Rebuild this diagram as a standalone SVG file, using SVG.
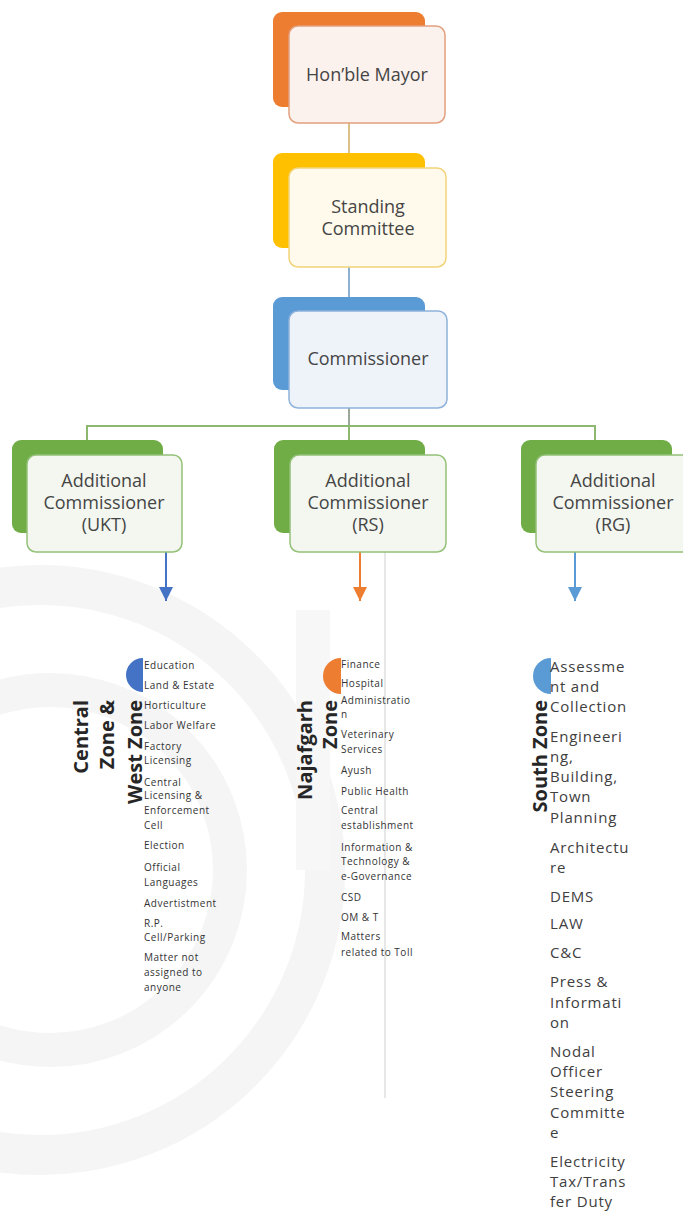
<svg xmlns="http://www.w3.org/2000/svg" width="683" height="1211" viewBox="0 0 683 1211">
<style>
.wm{fill:none;stroke:#f5f5f5}
.back{stroke:none}
.front{stroke-width:1.5}
.lbl{font-family:"Open Sans","Liberation Sans",sans-serif;font-size:18px;fill:#454545;text-anchor:middle}
.zone{font-family:"Open Sans","Liberation Sans",sans-serif;font-size:20px;font-weight:700;fill:#262626;text-anchor:end}
.sm{font-family:"Open Sans","Liberation Sans",sans-serif;font-size:10px;letter-spacing:0.5px;fill:#333}
.big{font-family:"Open Sans","Liberation Sans",sans-serif;font-size:15px;letter-spacing:0.8px;fill:#404040}
.tree{stroke:#8cb870;stroke-width:2;fill:none}
</style>
<defs>
<marker id="aBlue" viewBox="0 0 10 10" markerUnits="userSpaceOnUse" markerWidth="14" markerHeight="14" refX="10" refY="5" orient="auto"><path d="M0,0 L10,5 L0,10 z" fill="#4472c4"/></marker>
<marker id="aOrange" viewBox="0 0 10 10" markerUnits="userSpaceOnUse" markerWidth="14" markerHeight="14" refX="10" refY="5" orient="auto"><path d="M0,0 L10,5 L0,10 z" fill="#ed7d31"/></marker>
<marker id="aLight" viewBox="0 0 10 10" markerUnits="userSpaceOnUse" markerWidth="14" markerHeight="14" refX="10" refY="5" orient="auto"><path d="M0,0 L10,5 L0,10 z" fill="#5b9bd5"/></marker>
</defs>
<rect width="683" height="1211" fill="#ffffff"/>
<g id="watermark">
<circle class="wm" cx="40" cy="870" r="285" stroke-width="40"/>
<circle class="wm" cx="50" cy="870" r="180" stroke-width="34"/>
<rect x="296" y="610" width="34" height="260" fill="#f7f7f7"/>
</g>
<g id="connectors">
<line x1="349" y1="123" x2="349" y2="155" stroke="#dcc08a" stroke-width="2"/>
<line x1="349" y1="267" x2="349" y2="298" stroke="#8eb0d0" stroke-width="2"/>
<line x1="349" y1="408" x2="349" y2="426" stroke="#9aa89a" stroke-width="2"/>
<path class="tree" d="M87,442 V426 H595 V442 M349,426 V442"/>
<line x1="166" y1="552" x2="166" y2="601" stroke="#4472c4" stroke-width="2" marker-end="url(#aBlue)"/>
<line x1="360" y1="552" x2="360" y2="601" stroke="#ed7d31" stroke-width="2" marker-end="url(#aOrange)"/>
<line x1="575" y1="552" x2="575" y2="601" stroke="#5b9bd5" stroke-width="2" marker-end="url(#aLight)"/>
<line x1="385" y1="510" x2="385" y2="1098" stroke="#cfcfcf" stroke-width="1"/>
</g>
<g id="mayor">
<rect class="back" x="273" y="12" width="152" height="95" rx="9" fill="#ed7d31"/>
<rect class="front" x="289" y="26" width="156" height="97" rx="9" fill="#fcf2ed" stroke="#e2a07e"/>
<text class="lbl" x="367" y="81">Hon’ble Mayor</text>
</g>
<g id="standing-committee">
<rect class="back" x="273" y="153" width="152" height="95" rx="9" fill="#ffc000"/>
<rect class="front" x="289" y="168" width="157" height="99" rx="9" fill="#fffaeb" stroke="#f2d37a"/>
<text class="lbl" x="368" y="213">Standing</text>
<text class="lbl" x="368" y="235">Committee</text>
</g>
<g id="commissioner">
<rect class="back" x="273" y="297" width="152" height="93" rx="9" fill="#5b9bd5"/>
<rect class="front" x="289" y="311" width="158" height="97" rx="9" fill="#eef3fa" stroke="#8eb2da"/>
<text class="lbl" x="368" y="365">Commissioner</text>
</g>
<g id="addl-ukt">
<rect class="back" x="12" y="440" width="151" height="93" rx="9" fill="#70ad47"/>
<rect class="front" x="27" y="455" width="155" height="97" rx="9" fill="#f3f7f0" stroke="#93c178"/>
<text class="lbl" x="104" y="487">Additional</text>
<text class="lbl" x="104" y="509">Commissioner</text>
<text class="lbl" x="104" y="531">(UKT)</text>
</g>
<g id="addl-rs">
<rect class="back" x="274" y="440" width="151" height="93" rx="9" fill="#70ad47"/>
<rect class="front" x="290" y="455" width="156" height="97" rx="9" fill="#f3f7f0" stroke="#93c178"/>
<text class="lbl" x="368" y="487">Additional</text>
<text class="lbl" x="368" y="509">Commissioner</text>
<text class="lbl" x="368" y="531">(RS)</text>
</g>
<g id="addl-rg">
<rect class="back" x="521" y="440" width="151" height="93" rx="9" fill="#70ad47"/>
<rect class="front" x="536" y="455" width="156" height="97" rx="9" fill="#f3f7f0" stroke="#93c178"/>
<text class="lbl" x="613" y="487">Additional</text>
<text class="lbl" x="613" y="509">Commissioner</text>
<text class="lbl" x="613" y="531">(RG)</text>
</g>
<g id="zone-central-west">
<path d="M143,658 A17,17 0 0 0 143,692 Z" fill="#4472c4"/>
<text class="zone" transform="translate(88,700) rotate(-90)">Central</text>
<text class="zone" transform="translate(114,700) rotate(-90)">Zone &amp;</text>
<text class="zone" transform="translate(142,700) rotate(-90)">West Zone</text>
<g class="sm">
<text x="144" y="668.5">Education</text>
<text x="144" y="688.5">Land &amp; Estate</text>
<text x="144" y="708.5">Horticulture</text>
<text x="144" y="728.5">Labor Welfare</text>
<text x="144" y="749.5">Factory</text>
<text x="144" y="763.5">Licensing</text>
<text x="144" y="785.5">Central</text>
<text x="144" y="798.5">Licensing &amp;</text>
<text x="144" y="813.5">Enforcement</text>
<text x="144" y="828.5">Cell</text>
<text x="144" y="848.5">Election</text>
<text x="144" y="870.5">Official</text>
<text x="144" y="885.5">Languages</text>
<text x="144" y="906.5">Advertistment</text>
<text x="144" y="926.5">R.P.</text>
<text x="144" y="940.5">Cell/Parking</text>
<text x="144" y="960.5">Matter not</text>
<text x="144" y="975.5">assigned to</text>
<text x="144" y="990.5">anyone</text>
</g>
</g>
<g id="zone-najafgarh">
<path d="M341,658 A18,18 0 0 0 341,694 Z" fill="#ed7d31"/>
<text class="zone" transform="translate(312,700) rotate(-90)">Najafgarh</text>
<text class="zone" transform="translate(337,700) rotate(-90)">Zone</text>
<g class="sm">
<text x="341" y="667.5">Finance</text>
<text x="341" y="686.5">Hospital</text>
<text x="341" y="703.5">Administratio</text>
<text x="341" y="717.5">n</text>
<text x="341" y="737.5">Veterinary</text>
<text x="341" y="752.5">Services</text>
<text x="341" y="773.5">Ayush</text>
<text x="341" y="794.5">Public  Health</text>
<text x="341" y="813.5">Central</text>
<text x="341" y="828.5">establishment</text>
<text x="341" y="850.5">Information  &amp;</text>
<text x="341" y="864.5">Technology  &amp;</text>
<text x="341" y="879.5">e-Governance</text>
<text x="341" y="900.5">CSD</text>
<text x="341" y="920.5">OM &amp; T</text>
<text x="341" y="939.5">Matters</text>
<text x="341" y="955.5">related  to Toll</text>
</g>
</g>
<g id="zone-south">
<path d="M551,658 A18,18 0 0 0 551,694 Z" fill="#5b9bd5"/>
<text class="zone" transform="translate(547,700) rotate(-90)">South Zone</text>
<g class="big">
<text x="550" y="672">Assessme</text>
<text x="550" y="692">nt and</text>
<text x="550" y="712">Collection</text>
<text x="550" y="742">Engineeri</text>
<text x="550" y="762">ng,</text>
<text x="550" y="782">Building,</text>
<text x="550" y="802">Town</text>
<text x="550" y="823">Planning</text>
<text x="550" y="853">Architectu</text>
<text x="550" y="873">re</text>
<text x="550" y="902">DEMS</text>
<text x="550" y="929">LAW</text>
<text x="550" y="958">C&amp;C</text>
<text x="550" y="987">Press &amp;</text>
<text x="550" y="1008">Informati</text>
<text x="550" y="1028">on</text>
<text x="550" y="1057">Nodal</text>
<text x="550" y="1077">Officer</text>
<text x="550" y="1097">Steering</text>
<text x="550" y="1118">Committe</text>
<text x="550" y="1138">e</text>
<text x="550" y="1167">Electricity</text>
<text x="550" y="1187">Tax/Trans</text>
<text x="550" y="1207">fer Duty</text>
</g>
</g>
</svg>
